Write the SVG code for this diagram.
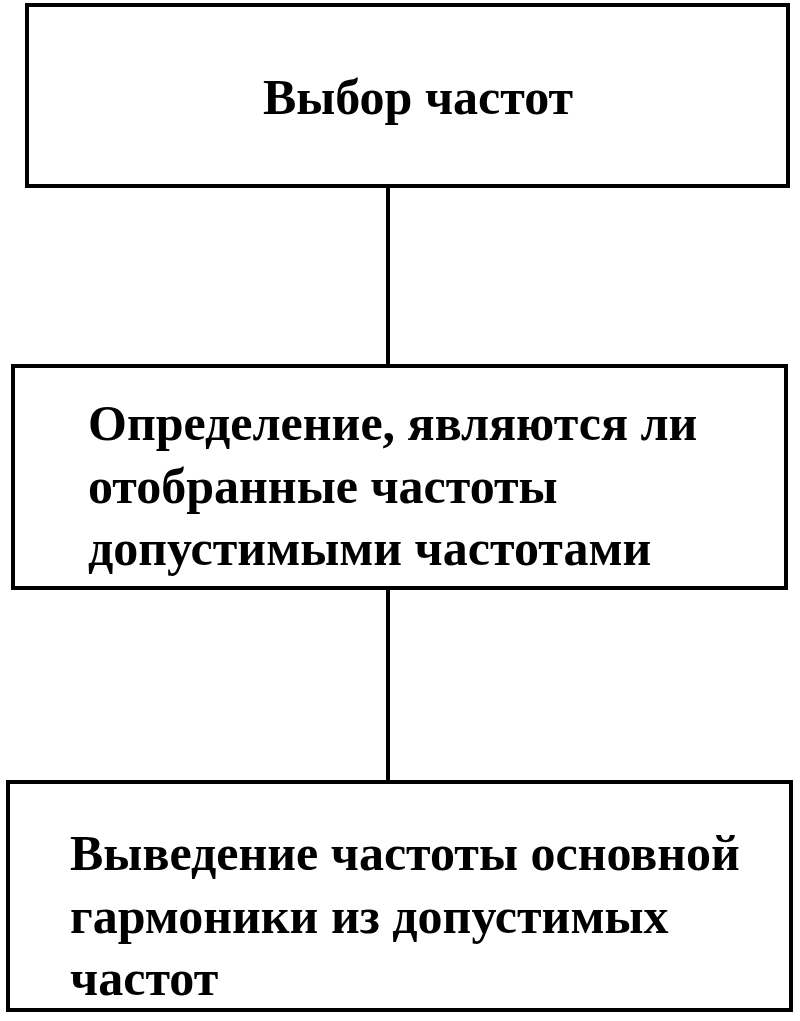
<svg xmlns="http://www.w3.org/2000/svg" width="800" height="1021" viewBox="0 0 800 1021">
<style>
.box{fill:#fff;stroke:#000;stroke-width:4}
.t{font-family:"Liberation Serif",serif;font-size:50px;fill:#000;font-weight:bold}
.c{stroke:#000;stroke-width:4;fill:none}
</style>
<rect width="800" height="1021" fill="#fff"/>
<g id="connectors">
<line class="c" x1="388" y1="186" x2="388" y2="366"/>
<line class="c" x1="388" y1="588" x2="388" y2="782"/>
</g>
<g id="n1">
<rect class="box" x="27" y="5" width="761" height="181"/>
<text class="t" x="418" y="114" text-anchor="middle">Выбор частот</text>
</g>
<g id="n2">
<rect class="box" x="13" y="366" width="773" height="222"/>
<text class="t" x="88" y="440">Определение, являются ли</text>
<text class="t" x="88" y="503">отобранные частоты</text>
<text class="t" x="88" y="565">допустимыми частотами</text>
</g>
<g id="n3">
<rect class="box" x="8" y="782" width="783" height="228"/>
<text class="t" x="70" y="870">Выведение частоты основной</text>
<text class="t" x="70" y="933">гармоники из допустимых</text>
<text class="t" x="70" y="995">частот</text>
</g>
</svg>
